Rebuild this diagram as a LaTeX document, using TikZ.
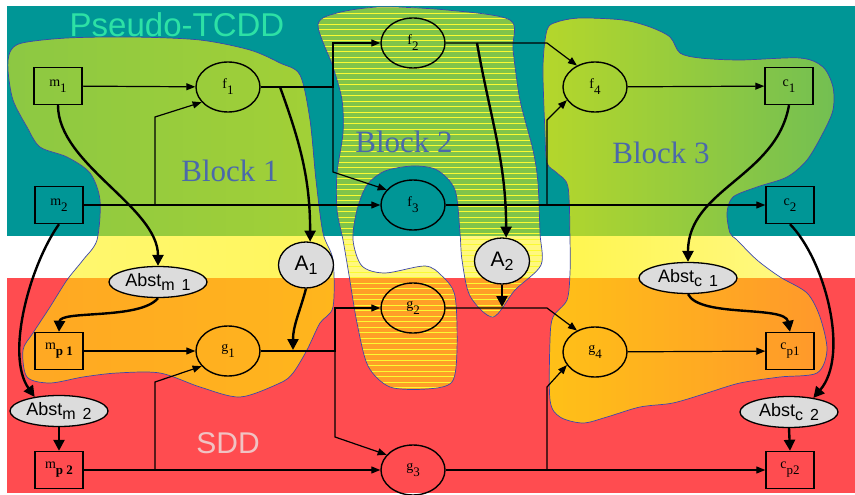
\documentclass[tikz,border=0pt]{standalone}
\usepackage{fontspec}
\setmainfont{Liberation Serif}
\setsansfont{Liberation Sans}
\usetikzlibrary{shapes.geometric,arrows.meta,fadings}

\definecolor{teal1}{RGB}{0,150,150}
\definecolor{red1}{RGB}{255,76,80}
\definecolor{stripe}{RGB}{250,250,50}
\definecolor{blueline}{RGB}{60,70,170}
\definecolor{blocktxt}{RGB}{75,105,170}
\definecolor{pseudo}{RGB}{45,225,165}
\definecolor{sddtxt}{RGB}{240,195,195}
\definecolor{absfill}{RGB}{220,220,220}

\tikzfading[name=fadeA, left color=transparent!45, right color=transparent!36]
\tikzfading[name=fadeC, left color=transparent!29, right color=transparent!55]

\newcommand\sbx[1]{\raisebox{-6pt}{\fontsize{13}{13}\selectfont #1}}
\newcommand\sbA[1]{\raisebox{-4pt}{\fontsize{16}{16}\selectfont #1}}

\begin{document}
\begin{tikzpicture}[x=1pt,y=-1pt,
  boxn/.style={draw, line width=1.4pt, minimum width=48pt, minimum height=37pt, inner sep=0pt, font=\fontsize{14}{14}\selectfont},
  fnode/.style={draw, ellipse, line width=1.4pt, minimum width=64pt, minimum height=50pt, inner sep=0pt, font=\fontsize{14}{14}\selectfont},
  absn/.style={draw, ellipse, fill=absfill, line width=1.3pt, minimum width=98pt, minimum height=31pt, inner sep=0pt, font=\sffamily\fontsize{18}{18}\selectfont},
  an/.style={draw, ellipse, fill=absfill, line width=1.3pt, minimum width=55pt, minimum height=46pt, inner sep=0pt, font=\sffamily\fontsize{21}{21}\selectfont},
  conn/.style={line width=1.2pt, -{Triangle[length=9pt,width=7pt]}},
  bigarr/.style={line width=2.4pt, -{Triangle[length=11pt,width=11pt]}},
  blobline/.style={draw=blueline, line width=0.7pt},
  blocklbl/.style={text=blocktxt, font=\fontsize{31}{31}\selectfont, anchor=base}
]
\useasboundingbox (0,0) rectangle (855,495);
\fill[white] (0,0) rectangle (855,495);
\fill[teal1] (7,6) rectangle (855,236);
\fill[red1] (7,278) rectangle (855,493);

% Block 1
\path[blobline, preaction={fill=yellow, path fading=fadeA}] plot[smooth cycle] coordinates {
 (10,52) (22,43) (67,38) (133,37) (200,40) (250,50) (280,63) (300,75) (310,120) (316,180) (323,233)
 (333,260) (333,307) (320,323) (307,350) (293,373) (280,383) (240,397) (200,387) (160,373) (117,373)
 (83,377) (50,383) (27,377) (23,350) (33,333) (50,307) (67,280) (83,260) (97,240) (100,200) (90,173)
 (67,157) (40,147) (27,127) (13,100) (8,70)};

% Block 2
\begin{scope}
\clip plot[smooth cycle] coordinates {
 (318,25) (337,13) (380,7) (447,10) (510,20) (513,50) (520,100) (533,150) (538,183) (540,233)
 (541,265) (515,290) (493,317) (470,296) (462,260) (460,233) (455,190) (437,170) (413,166) (385,171)
 (367,185) (357,210) (353,240) (362,266) (385,273) (425,266) (442,276) (455,296) (457,350) (452,382)
 (427,389) (390,387) (368,366) (357,323) (349,275) (343,240) (337,210) (337,173) (343,133) (342,100)
 (333,67)};
\fill[yellow, fill opacity=0.5] (300,0) rectangle (560,400);
\foreach \yy in {8,13.5,...,400} \draw[stripe, line width=1pt] (300,\yy) -- (560,\yy);
\end{scope}
\path[blobline] plot[smooth cycle] coordinates {
 (318,25) (337,13) (380,7) (447,10) (510,20) (513,50) (520,100) (533,150) (538,183) (540,233)
 (541,265) (515,290) (493,317) (470,296) (462,260) (460,233) (455,190) (437,170) (413,166) (385,171)
 (367,185) (357,210) (353,240) (362,266) (385,273) (425,266) (442,276) (455,296) (457,350) (452,382)
 (427,389) (390,387) (368,366) (357,323) (349,275) (343,240) (337,210) (337,173) (343,133) (342,100)
 (333,67)};

% Block 3
\path[blobline, preaction={fill=yellow, path fading=fadeC}] plot[smooth cycle] coordinates {
 (547,30) (557,22) (580,18) (623,20) (650,27) (670,37) (680,53) (700,58) (740,60) (800,58) (823,67)
 (833,87) (833,110) (823,133) (807,160) (787,177) (757,187) (733,197) (727,213) (730,233) (737,240)
 (757,260) (780,277) (807,293) (820,317) (827,350) (817,373) (780,377) (740,383) (707,393) (673,403)
 (640,407) (607,417) (583,423) (560,417) (550,400) (550,340) (553,317) (567,300) (570,273) (570,240)
 (568,187) (557,173) (547,163) (545,133) (543,67)};

% Labels
\node[anchor=base, text=pseudo, font=\sffamily\fontsize{33}{33}\selectfont] (ptcdd) at (177,37) {Pseudo-TCDD};
\node[blocklbl] (bl1) at (230,181) {Block 1};
\node[blocklbl] (bl2) at (404,153) {Block 2};
\node[blocklbl] (bl3) at (661,164) {Block 3};
\node[anchor=base, text=sddtxt, font=\sffamily\fontsize{30}{30}\selectfont] (sdd) at (228,453) {SDD};

% Nodes
\node[boxn] (m1) at (58,86) {m\sbx{1}};
\node[boxn] (m2) at (59,205) {m\sbx{2}};
\node[fnode] (f1) at (228,87) {f\sbx{1}};
\node[fnode] (f2) at (413,43) {f\sbx{2}};
\node[fnode] (f3) at (413,205) {f\sbx{3}};
\node[fnode] (f4) at (595,87) {f\sbx{4}};
\node[boxn] (c1) at (789,86) {c\sbx{1}};
\node[boxn] (c2) at (790,205) {c\sbx{2}};

\node[boxn] (mp1) at (59,351) {m\sbx{\textbf{p 1}}};
\node[boxn] (mp2) at (59,470) {m\sbx{\textbf{p 2}}};
\node[fnode] (g1) at (228,351) {g\sbx{1}};
\node[fnode] (g2) at (413,308) {g\sbx{2}};
\node[fnode] (g3) at (413,470) {g\sbx{3}};
\node[fnode] (g4) at (595,352) {g\sbx{4}};
\node[boxn] (cp1) at (790,351) {c\sbx{p1}};
\node[boxn] (cp2) at (790,470) {c\sbx{p2}};

\node[absn] (absm1) at (158,282) {Abst\sbA{m\hspace{7pt}1}};
\node[absn] (absm2) at (59,411) {Abst\sbA{m\hspace{7pt}2}};
\node[absn] (absc1) at (688,278) {Abst\sbA{c\hspace{7pt}1}};
\node[absn] (absc2) at (789,412) {Abst\sbA{c\hspace{7pt}2}};
\node[an] (a1) at (306,265) {A\sbA{1}};
\node[an] (a2) at (502,261) {A\sbA{2}};

% junction coordinates
\coordinate (bm2) at (155,205);
\coordinate (bm2u) at (155,117);
\coordinate (j1) at (333,87);
\coordinate (j1d) at (333,172);
\coordinate (j2) at (547,43);
\coordinate (bf3) at (547,205);
\coordinate (bf3u) at (547,120);
\coordinate (tf1) at (280,87);
\coordinate (tf2) at (477,43);
\coordinate (j3) at (335,351);
\coordinate (j3d) at (335,437);
\coordinate (bmp2) at (155,470);
\coordinate (bmp2u) at (155,382);
\coordinate (j4) at (547,308);
\coordinate (bg3) at (547,470);
\coordinate (bg3u) at (547,387);
\coordinate (ta1) at (293,350);
\coordinate (ta2) at (502,307);

% thin connectors, top
\draw[conn] (m1) -- (f1);
\draw[conn] (m2) -- (f3);
\draw[conn] (bm2) -- (bm2u) -- (f1.210);
\draw[conn] (f1) -- (j1) |- (f2);
\draw[conn] (j1) -- (j1d) -- (f3.150);
\draw[conn] (f2) -- (j2) -- (f4.130);
\draw[conn] (f4) -- (c1);
\draw[conn] (f3) -- (c2);
\draw[conn] (bf3) -- (bf3u) -- (f4.205);

% thin connectors, bottom
\draw[conn] (mp1) -- (g1);
\draw[conn] (mp2) -- (g3);
\draw[conn] (bmp2) -- (bmp2u) -- (g1.210);
\draw[conn] (g1) -- (j3) |- (g2);
\draw[conn] (j3) -- (j3d) -- (g3.150);
\draw[conn] (g2) -- (j4) -- (g4.130);
\draw[conn] (g4) -- (cp1);
\draw[conn] (g3) -- (cp2);
\draw[conn] (bg3) -- (bg3u) -- (g4.205);

% thick connectors
\draw[bigarr] (m1.south) to[out=-90,in=90,looseness=0.8] (absm1.north);
\draw[bigarr] (tf1) to[out=-70,in=90] (a1.80);
\draw[bigarr] (tf2) to[out=-80,in=90] (a2.80);
\draw[bigarr] (c1.south) to[out=-100,in=90] (absc1.north);
\draw[bigarr] (m2.south) .. controls (30,265) and (5,355) .. (absm2.150);
\draw[bigarr] (c2.south) .. controls (825,260) and (850,355) .. (absc2.30);
\draw[bigarr] (absm1.south) .. controls (140,320) and (60,310) .. (mp1.north);
\draw[bigarr] (absm2.south) -- (mp2.north);
\draw[bigarr] (absc2.south) -- (cp2.north);
\draw[bigarr] (absc1.south) .. controls (700,318) and (785,305) .. (cp1.north);
\draw[bigarr] (a1.south) to[out=-105,in=90] (ta1);
\draw[bigarr] (a2.south) -- (ta2);
\end{tikzpicture}
\end{document}
